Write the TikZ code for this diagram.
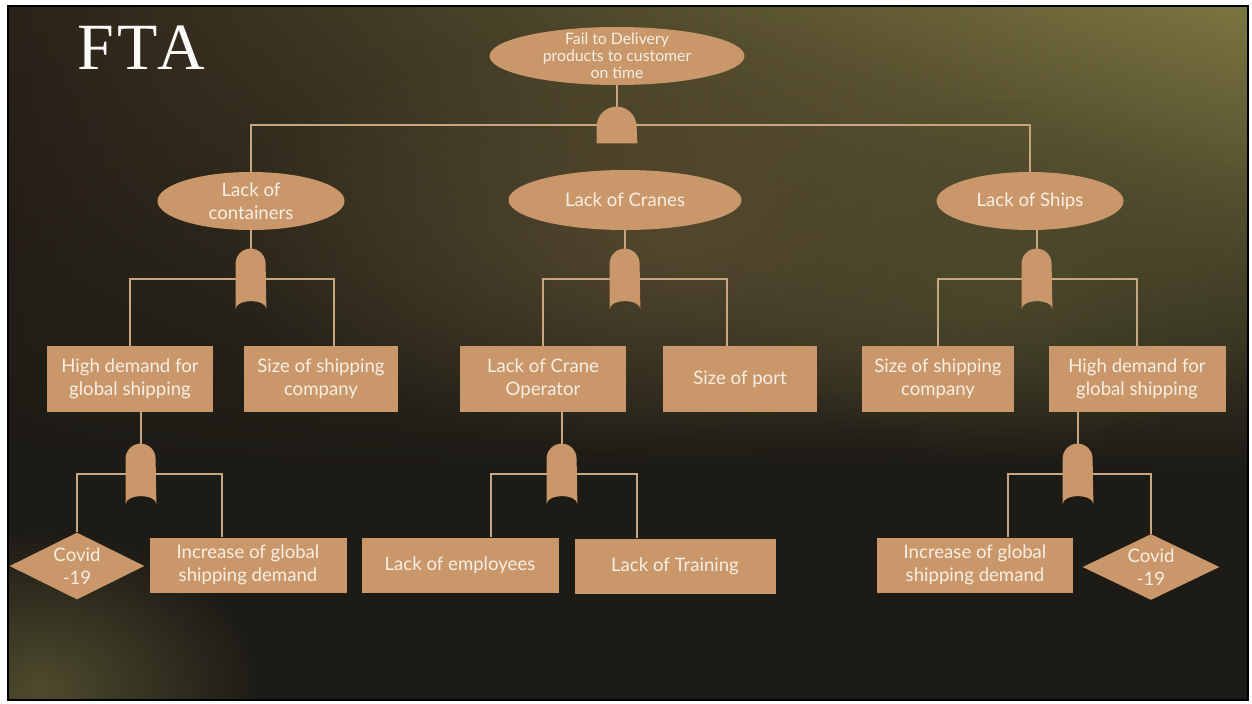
\documentclass[tikz,border=0pt]{standalone}
\usepackage{fontspec}
\setmainfont{Lato}
\newfontfamily\ftatitle[LetterSpace=6]{Liberation Serif}
\usetikzlibrary{positioning,shapes.geometric,fadings}
\definecolor{ftaTan}{HTML}{C9976A}
\definecolor{ftaText}{HTML}{F7EFE3}
\definecolor{ftaLine}{HTML}{C8A680}
\definecolor{bgBase}{HTML}{1D1B16}
\definecolor{bgLeft}{HTML}{2B2219}
\definecolor{bgMid}{HTML}{6B5838}
\definecolor{bgRight}{HTML}{7C7641}
\definecolor{bgGlow}{HTML}{5E5034}
\definecolor{bgOlive}{HTML}{4E4B2D}
\tikzfading[name=glowfade, inner color=transparent!0, outer color=transparent!100]

\newcommand\orgate[1]{%
  \fill[ftaTan] (#1.south west) -- ([yshift=-7.5pt]#1.north west)
    arc[start angle=180, end angle=0, radius=7.5pt] -- (#1.south east)
    .. controls ([yshift=5.5pt]#1.south east) and ([yshift=5.5pt]#1.south west) .. (#1.south west) -- cycle;}
\newcommand\andgate[1]{%
  \fill[ftaTan] (#1.south west) -- ([yshift=-10pt]#1.north west)
    arc[start angle=180, end angle=0, radius=10pt] -- (#1.south east) -- cycle;}

\begin{document}
\begin{tikzpicture}[x=0.5pt, y=-0.5pt,
    event/.style={ellipse, fill=ftaTan, text=ftaText, inner sep=0pt, align=center,
                  font=\fontsize{9.3}{11.5}\selectfont},
    basic/.style={rectangle, fill=ftaTan, text=ftaText, inner sep=0pt, align=center,
                  minimum height=33pt, font=\fontsize{9.3}{11.5}\selectfont},
    undev/.style={diamond, aspect=2, fill=ftaTan, text=ftaText, inner sep=0pt, align=center,
                  font=\fontsize{9.3}{11.5}\selectfont},
    orbox/.style={rectangle, inner sep=0pt, minimum width=15pt, minimum height=30pt},
    andbox/.style={rectangle, inner sep=0pt, minimum width=20pt, minimum height=18pt},
    link/.style={draw=ftaLine, line width=0.7pt}
  ]
  \useasboundingbox (0,0) rectangle (1252,703);
  \fill[white] (0,0) rectangle (1252,703);
  \begin{scope}
    \clip (8,6) rectangle (1248,700);
    \fill[bgBase] (8,6) rectangle (1248,700);
    \shade[left color=bgLeft, middle color=bgMid, right color=bgRight, path fading=south]
      (8,6) rectangle (1248,470);
    \fill[bgGlow, path fading=glowfade, fill opacity=0.7] (680,240) ellipse[x radius=230pt, y radius=110pt];
    \fill[bgOlive, path fading=glowfade, fill opacity=0.8] (1000,280) ellipse[x radius=150pt, y radius=90pt];
    \fill[bgOlive, path fading=glowfade] (40,690) ellipse[x radius=110pt, y radius=80pt];
  \end{scope}
  \draw[black, line width=1pt] (8,6) rectangle (1248,700);

  \node[text=white!95!ftaTan, font=\ftatitle\fontsize{33}{33}\selectfont] (title) at (141,48) {FTA};

  \node[event, minimum width=127.5pt, minimum height=29pt] (top) at (617,56) {};
  \node[text=ftaText, align=center, inner sep=0pt, font=\fontsize{7.9}{8.5}\selectfont]
    (toptext) at (top.center) {Fail to Delivery\\products to customer\\on time};
  \node[andbox] (g0) at (617,125) {};

  \node[event, minimum width=93.5pt, minimum height=29pt] (cont) at (251,201) {Lack of\\containers};
  \node[event, minimum width=116.5pt, minimum height=30pt] (cranes) at (625,200) {Lack of Cranes};
  \node[event, minimum width=93.5pt, minimum height=29pt] (ships) at (1030,201) {Lack of Ships};
  \node[orbox] (g1) at (251,279) {};
  \node[orbox] (g2) at (625,279) {};
  \node[orbox] (g3) at (1037,279) {};

  \node[basic, minimum width=83pt] (hd1) at (130,379) {High demand for\\global shipping};
  \node[basic, minimum width=77pt] (sz1) at (321,379) {Size of shipping\\company};
  \node[basic, minimum width=83pt] (op) at (543,379) {Lack of Crane\\Operator};
  \node[basic, minimum width=77pt] (port) at (740,379) {Size of port};
  \node[basic, minimum width=76pt] (sz2) at (938,379) {Size of shipping\\company};
  \node[basic, minimum width=88.5pt] (hd2) at (1137,379) {High demand for\\global shipping};
  \node[orbox] (g4) at (141,474) {};
  \node[orbox] (g5) at (562,474) {};
  \node[orbox] (g6) at (1078,474) {};

  \node[undev, minimum width=67.5pt, minimum height=33.5pt] (cov1) at (77,566) {Covid\\-19};
  \node[basic, minimum width=98.5pt, minimum height=27.5pt] (inc1) at (248,565) {Increase of global\\shipping demand};
  \node[basic, minimum width=98.5pt, minimum height=27.5pt] (emp) at (460,565) {Lack of employees};
  \node[basic, minimum width=100.5pt, minimum height=27.5pt] (trn) at (675,566) {Lack of Training};
  \node[basic, minimum width=98pt, minimum height=27.5pt] (inc2) at (975,565) {Increase of global\\shipping demand};
  \node[undev, minimum width=68.5pt, minimum height=33pt] (cov2) at (1151,567) {Covid\\-19};

  \draw[link] (top.south) -- (g0.north);
  \draw[link] (cont.north) |- (g0.center) -| (ships.north);
  \draw[link] (cont.south) -- (g1.north);
  \draw[link] (hd1.north) |- (g1.center) -| ([xshift=6.5pt]sz1.north);
  \draw[link] (cranes.south) -- (g2.north);
  \draw[link] (op.north) |- (g2.center) -| ([xshift=-6.5pt]port.north);
  \draw[link] (ships.south -| g3.north) -- (g3.north);
  \draw[link] (sz2.north) |- (g3.center) -| (hd2.north);
  \draw[link] (hd1.south -| g4.north) -- (g4.north);
  \draw[link] (cov1.north) |- (g4.center) -| ([xshift=-13pt]inc1.north);
  \draw[link] (op.south -| g5.north) -- (g5.north);
  \draw[link] ([xshift=15.5pt]emp.north) |- (g5.center) -| ([xshift=-19pt]trn.north);
  \draw[link] (hd2.south -| g6.north) -- (g6.north);
  \draw[link] ([xshift=16.5pt]inc2.north) |- (g6.center) -| (cov2.north);

  \andgate{g0}
  \foreach \g in {1,...,6} {\orgate{g\g}}
\end{tikzpicture}
\end{document}
